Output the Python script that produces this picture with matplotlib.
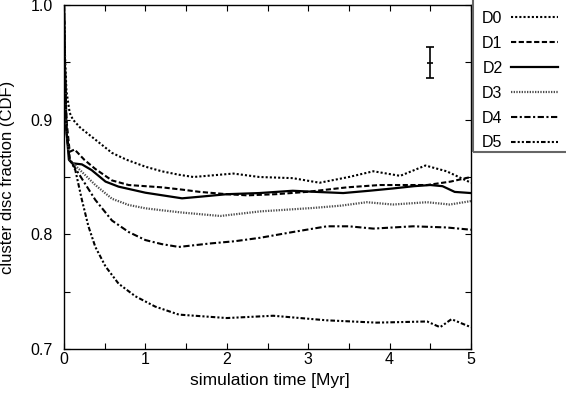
import matplotlib
matplotlib.use("Agg")
import matplotlib.pyplot as plt
from matplotlib.ticker import MultipleLocator
from matplotlib.patches import Rectangle

plt.rcParams['font.family'] = ['Liberation Sans', 'DejaVu Sans']

# ---- data ----
labels = ["D0", "D1", "D2", "D3", "D4", "D5"]

d0_x = [0, 0.01, 0.03, 0.07, 0.11, 0.2, 0.36, 0.59, 0.77, 1.0, 1.2, 1.41, 1.59, 2.08, 2.4, 2.81, 3.14, 3.5, 3.8, 4.13, 4.44, 4.7, 5.0]
d0_y = [1.0, 0.96, 0.925, 0.906, 0.9, 0.893, 0.884, 0.871, 0.865, 0.859, 0.855, 0.852, 0.850, 0.853, 0.850, 0.849, 0.845, 0.850, 0.855, 0.851, 0.860, 0.855, 0.845]

d1_x = [0, 0.01, 0.03, 0.07, 0.13, 0.25, 0.385, 0.59, 0.795, 1.2, 1.45, 1.67, 2.0, 2.25, 2.6, 2.98, 3.48, 3.88, 4.2, 4.46, 4.75, 5.0]
d1_y = [1.0, 0.95, 0.9, 0.872, 0.874, 0.865, 0.857, 0.847, 0.843, 0.841, 0.839, 0.837, 0.835, 0.834, 0.835, 0.837, 0.841, 0.843, 0.843, 0.843, 0.846, 0.850]

d2_x = [0, 0.01, 0.03, 0.06, 0.1, 0.22, 0.34, 0.51, 0.67, 1.0, 1.45, 1.7, 2.0, 2.4, 2.81, 3.1, 3.43, 3.75, 4.04, 4.3, 4.5, 4.65, 4.8, 5.0]
d2_y = [1.0, 0.95, 0.89, 0.865, 0.862, 0.861, 0.856, 0.846, 0.8416, 0.8363, 0.8314, 0.833, 0.835, 0.836, 0.838, 0.837, 0.836, 0.838, 0.840, 0.842, 0.843, 0.842, 0.837, 0.836]

d3_x = [0, 0.01, 0.03, 0.07, 0.14, 0.385, 0.59, 0.795, 1.0, 1.2, 1.45, 1.92, 2.41, 3.06, 3.4, 3.72, 4.04, 4.46, 4.74, 5.0]
d3_y = [1.0, 0.95, 0.89, 0.865, 0.860, 0.843, 0.831, 0.8256, 0.8227, 0.821, 0.819, 0.816, 0.820, 0.823, 0.825, 0.828, 0.826, 0.828, 0.826, 0.829]

d4_x = [0, 0.01, 0.03, 0.07, 0.18, 0.385, 0.59, 0.795, 1.0, 1.2, 1.41, 1.79, 2.1, 2.41, 2.81, 3.23, 3.5, 3.8, 4.29, 4.7, 5.0]
d4_y = [1.0, 0.95, 0.89, 0.865, 0.853, 0.830, 0.812, 0.802, 0.795, 0.7915, 0.789, 0.792, 0.794, 0.797, 0.802, 0.807, 0.807, 0.805, 0.807, 0.806, 0.804]

d5_x = [0, 0.01, 0.03, 0.07, 0.139, 0.22, 0.30, 0.385, 0.51, 0.67, 0.876, 1.12, 1.41, 2.0, 2.57, 3.23, 3.84, 4.46, 4.62, 4.76, 5.0]
d5_y = [1.0, 0.95, 0.89, 0.866, 0.856, 0.830, 0.807, 0.789, 0.772, 0.757, 0.746, 0.737, 0.730, 0.727, 0.729, 0.725, 0.723, 0.724, 0.719, 0.726, 0.719]

err_x = [4.5]
err_y = [0.9495]
err_e = [0.0135]

series_x = [d0_x, d1_x, d2_x, d3_x, d4_x, d5_x]
series_y = [d0_y, d1_y, d2_y, d3_y, d4_y, d5_y]

styles = [
    dict(color='black', lw=1.5, ls=(0, (1.0, 1.0))),
    dict(color='black', lw=1.5, ls=(0, (2.5, 1.2))),
    dict(color='black', lw=1.6, ls='-'),
    dict(color='0.3', lw=1.6, ls=(0, (0.6, 0.6))),
    dict(color='black', lw=1.5, ls=(0, (3.0, 1.2, 1.0, 1.2))),
    dict(color='black', lw=1.5, ls=(0, (2.2, 1.0, 1.0, 1.0, 1.0, 1.0))),
]

W, H = 566, 397
fig = plt.figure(figsize=(W/100, H/100), dpi=100)
ax = fig.add_axes([64/W, 1-349/H, (471-64)/W, (349-5)/H])

for xs, ys, lab, st in zip(series_x, series_y, labels, styles):
    ax.plot(xs, ys, label=lab, **st)

ax.errorbar(err_x, err_y, yerr=err_e, fmt='_', color='black', ms=5, mew=1.2,
            capsize=3, elinewidth=1.2, capthick=1.2)

ax.set_xlim(0, 5)
ax.set_ylim(0.7, 1.0)
ax.xaxis.set_major_locator(MultipleLocator(1))
ax.xaxis.set_minor_locator(MultipleLocator(0.5))
ax.yaxis.set_major_locator(MultipleLocator(0.1))
ax.yaxis.set_minor_locator(MultipleLocator(0.05))
ax.yaxis.set_major_formatter(plt.FuncFormatter(lambda v, p: f"{v:.1f}"))
ax.tick_params(which='both', direction='in', top=True, right=True, length=4, width=0.8, labelsize=11.5)
ax.tick_params(axis='x', pad=2.5)
ax.tick_params(axis='y', pad=8)
for s in ax.spines.values():
    s.set_linewidth(1.0)

fig.text(270/W, 1-385/H, "simulation time [Myr]", fontsize=12.5, ha='center', va='baseline')
fig.text(12.5/W, 1-177/H, "cluster disc fraction (CDF)", fontsize=12, rotation=90,
         rotation_mode='anchor', ha='center', va='baseline')

leg = fig.legend(loc='upper left', bbox_to_anchor=(477.4/W, 1-6.3/H), bbox_transform=fig.transFigure,
                 borderaxespad=0.0, frameon=False,
                 markerfirst=False, handlelength=2.9, handletextpad=0.55, labelspacing=0.62,
                 fontsize=11.5, borderpad=0.29)
fig.add_artist(Rectangle((472.5/W, 1-152/H), 0.3, 0.5, transform=fig.transFigure,
                         fill=False, ec='0.4', lw=1.5, clip_on=False))

fig.savefig("out.png", dpi=100)
